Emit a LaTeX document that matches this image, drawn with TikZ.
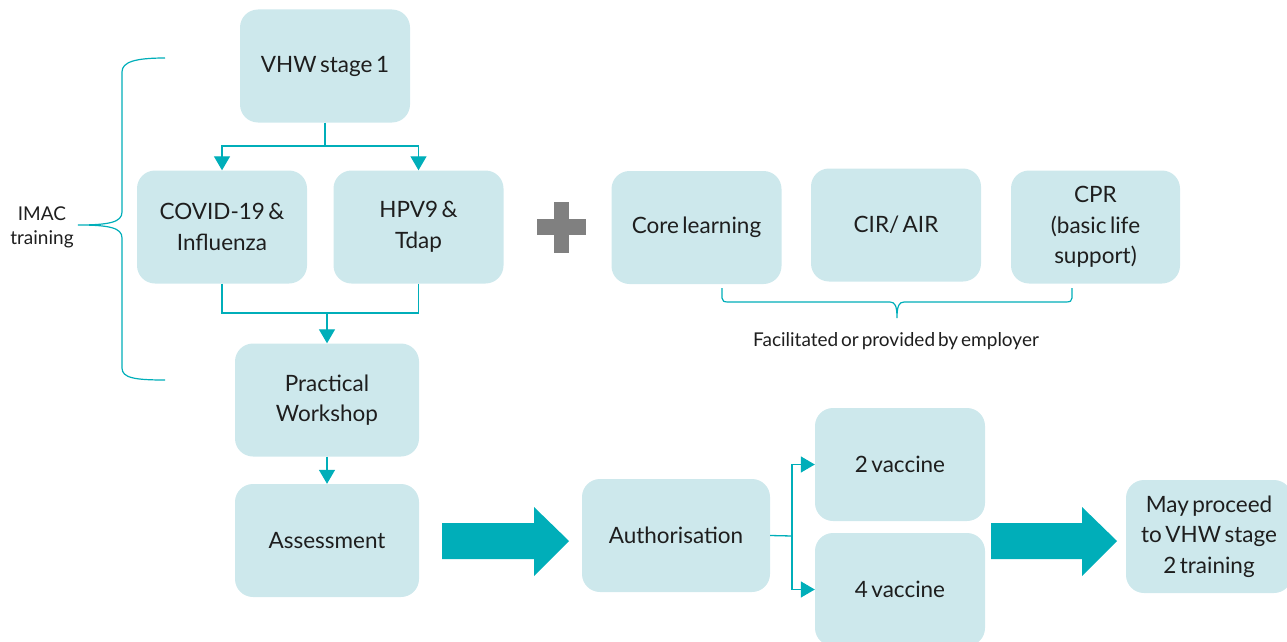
\documentclass[tikz,border=0pt]{standalone}
\usepackage{fontspec}
\setmainfont{Lato}[WordSpace=0.6]
\usetikzlibrary{arrows.meta}
\definecolor{boxfill}{RGB}{205,232,236}
\definecolor{accent}{RGB}{0,174,185}
\definecolor{txt}{RGB}{30,30,30}
\definecolor{plusgray}{RGB}{128,128,128}
\newcommand{\boxfont}{\fontsize{22.5}{30.5}\selectfont}
\newcommand{\smallfont}{\fontsize{19}{24}\selectfont}
\begin{document}
\begin{tikzpicture}[x=1pt,y=-1pt,
  box/.style={rounded corners=18pt, fill=boxfill, minimum width=170pt, minimum height=113pt,
    align=center, font=\boxfont, text=txt, inner sep=0pt},
  conn/.style={draw=accent, line width=1.3pt},
  tipped/.style={-{Triangle[length=14pt,width=16pt]}},
  lbl/.style={font=\smallfont, text=txt, align=center, inner sep=0pt}]
\useasboundingbox (0,0) rectangle (1287,642);
\clip (0,0) rectangle (1287,642);
% boxes
\node[box] (vhw) at (325,66) {VHW stage 1};
\node[box] (covid) at (222,227) {COVID-19 \&\\Influenza};
\node[box] (hpv) at (418.5,227) {HPV9 \&\\Tdap};
\node[box] (core) at (696.5,227.5) {Core learning};
\node[box] (cir) at (896,225) {CIR/ AIR};
\node[box, minimum width=169pt] (cpr) at (1095.5,227) {CPR\\(basic life\\support)};
\node[box, minimum width=184pt] (prac) at (327,400) {Practical\\Workshop};
\node[box, minimum width=184pt] (assess) at (327,540.5) {Assessment};
\node[box, minimum width=188pt] (auth) at (676,535.5) {Authorisation};
\node[box] (v2) at (900,464.5) {2 vaccine};
\node[box] (v4) at (900,589.5) {4 vaccine};
\node[box, minimum width=166pt] (may) at (1209,536.5) {May proceed\\to VHW stage\\2 training};
% connectors
\coordinate (j1) at (325,146);
\draw[conn] (vhw.south) -- (j1);
\draw[conn,tipped] (j1) -| (covid.north);
\draw[conn,tipped] (j1) -| (hpv.north);
\coordinate (j2) at (327,313);
\draw[conn] (covid.south) |- (j2);
\draw[conn] (hpv.south) |- (j2);
\draw[conn,tipped] (j2) -- (prac.north);
\draw[conn,tipped] (prac.south) -- (assess.north);
\coordinate (j3) at (792,536);
\draw[conn] (auth.east) -- (j3);
\draw[conn,tipped] (j3) |- (v2.west);
\draw[conn,tipped] (j3) |- (v4.west);
% big arrows
\fill[accent] (442,523) -- (534,523) -- (534,507) -- (569,541) -- (534,576) -- (534,559) -- (442,559) -- cycle;
\fill[accent] (991,523) -- (1082,523) -- (1082,507) -- (1117,541) -- (1082,576) -- (1082,559) -- (991,559) -- cycle;
% plus
\fill[plusgray] (537,219) rectangle (586,235);
\fill[plusgray] (554,202) rectangle (569,253);
% left brace
\draw[conn, line width=1.2pt] (165,58) .. controls (135,58) and (122,62) .. (122,72)
  -- (122,212) .. controls (122,222) and (110,225) .. (78,225)
  .. controls (110,225) and (122,228) .. (122,238)
  -- (122,368) .. controls (122,378) and (135,380) .. (165,380);
\node[lbl] (imac) at (42,227) {IMAC\\training};
% bottom brace
\draw[conn, line width=1.2pt] (722,288) -- (722,298) .. controls (722,301) and (724,302) .. (728,302)
  -- (890,302) .. controls (895,302) and (897,306) .. (897,318)
  .. controls (897,306) and (899,302) .. (904,302)
  -- (1066,302) .. controls (1070,302) and (1072,301) .. (1072,298) -- (1072,288);
\node[lbl] (emp) at (896,341) {Facilitated or provided by employer};
\end{tikzpicture}
\end{document}
